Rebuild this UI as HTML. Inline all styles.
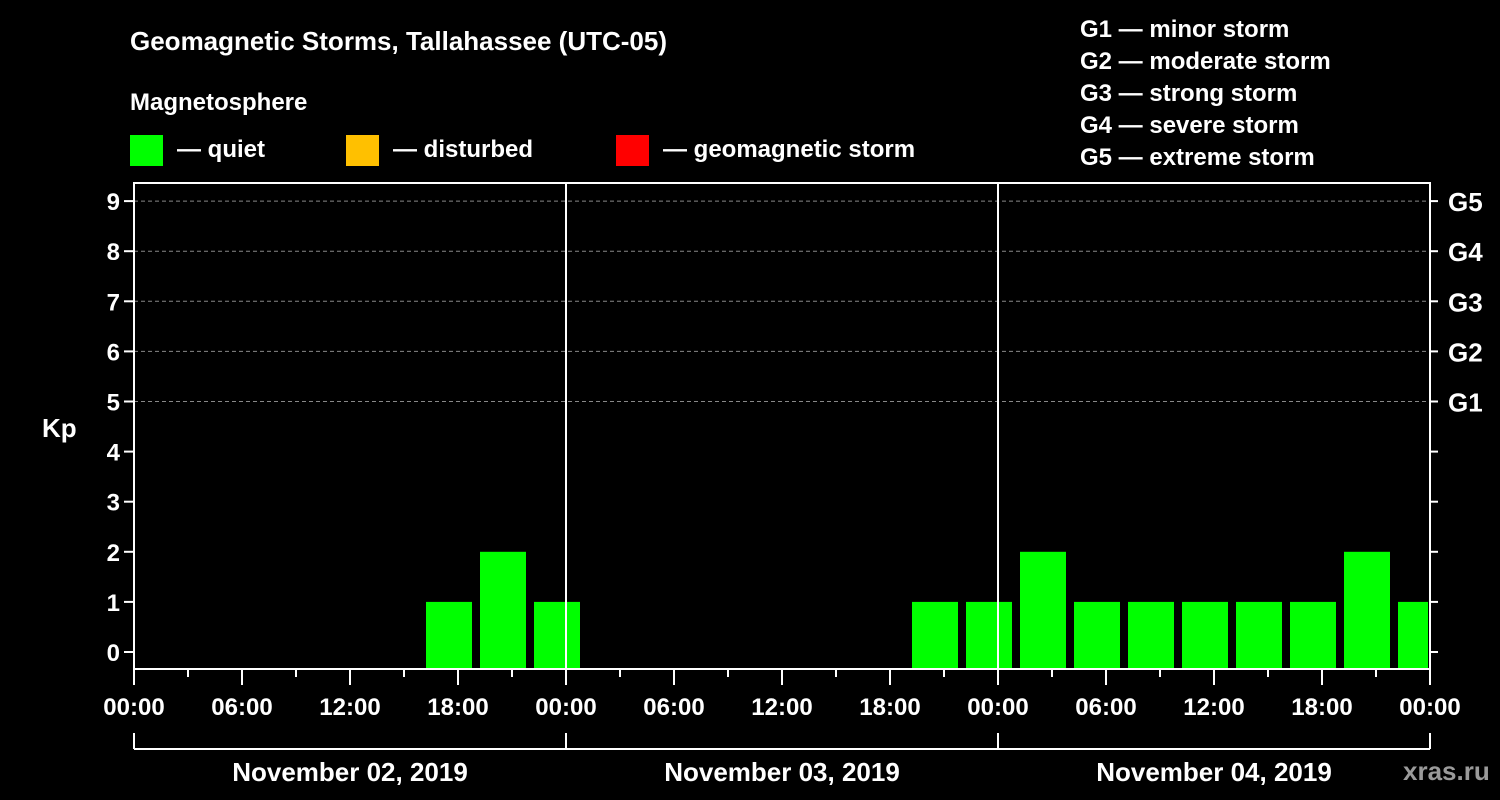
<!DOCTYPE html>
<html><head><meta charset="utf-8"><style>
body{margin:0;background:#000;width:1500px;height:800px;overflow:hidden}
svg{display:block}
text{font-family:"Liberation Sans",sans-serif;font-weight:bold;fill:#fff}
</style></head><body>
<svg id="c" width="1500" height="800" xmlns="http://www.w3.org/2000/svg">
<text x="130" y="50" font-size="26">Geomagnetic Storms, Tallahassee (UTC-05)</text>
<text x="130" y="110" font-size="24">Magnetosphere</text>
<g><rect x="130" y="135" width="33" height="31" fill="#00ff00"/><text x="177" y="157" font-size="24">— quiet</text></g>
<g><rect x="346" y="135" width="33" height="31" fill="#ffc000"/><text x="393" y="157" font-size="24">— disturbed</text></g>
<g><rect x="616" y="135" width="33" height="31" fill="#ff0000"/><text x="663" y="157" font-size="24">— geomagnetic storm</text></g>
<g font-size="24">
<text x="1080" y="37">G1 — minor storm</text>
<text x="1080" y="69">G2 — moderate storm</text>
<text x="1080" y="101">G3 — strong storm</text>
<text x="1080" y="133">G4 — severe storm</text>
<text x="1080" y="165">G5 — extreme storm</text>
</g>
<text x="42" y="437" font-size="26">Kp</text>
<text x="1403" y="780" font-size="26" fill="#888" style="fill:#9a9a9a">xras.ru</text>
<g id="g"></g>
</svg>
<script>
const kpValues=[0,0,0,0,0,1,2,1, 0,0,0,0,0,0,1,1, 2,1,1,1,1,1,2,1];
const yTicks=[0,1,2,3,4,5,6,7,8,9];
const gLabels=["G1","G2","G3","G4","G5"];
const xTickLabels=["00:00","06:00","12:00","18:00","00:00","06:00","12:00","18:00","00:00","06:00","12:00","18:00","00:00"];
const dayLabels=["November 02, 2019","November 03, 2019","November 04, 2019"];
const binStartHour=1;
const NS="http://www.w3.org/2000/svg";
const L=134,R=1430,T=183,B=669,totalHours=72;
const x=h=>L+(R-L)*h/totalHours;
const y=v=>652-50.1*v;
const g=document.getElementById('g');
function mk(t,a){const e=document.createElementNS(NS,t);for(const k in a)e.setAttribute(k,a[k]);g.appendChild(e);return e;}
function col(v){return v>=5?"#ff0000":v>=4?"#ffc000":"#00ff00";}
// grid
yTicks.forEach(v=>{
 if(v>=5){const l=mk('line',{x1:L,x2:R,y1:y(v),y2:y(v),stroke:'#888','stroke-dasharray':'4,3'});
 
 }
 const t1=mk('line',{x1:L-10,x2:L,y1:y(v),y2:y(v),stroke:'#fff','stroke-width':2});
 
 
 const t2=mk('line',{x1:R,x2:R+8,y1:y(v),y2:y(v),stroke:'#fff','stroke-width':2});
 
 
 const tx=mk('text',{x:L-14,y:y(v)+9,'font-size':24,'text-anchor':'end'});tx.textContent=v;
 
 
 if(v>=5){const gt=mk('text',{x:R+18,y:y(v)+10,'font-size':26});gt.textContent=gLabels[v-5];
 
 }
});
// bars
kpValues.forEach((v,i)=>{
 if(v<=0)return;
 const h0=binStartHour+i*3,h1=Math.min(h0+3,totalHours);
 const x0=x(h0)+4,x1=x(h1)-(h0+3>totalHours?2:4);
 const r=mk('rect',{x:x0,y:y(v),width:x1-x0,height:B-1-y(v),fill:col(v)});
 
 
});
// frame
const fr=mk('rect',{x:L,y:T,width:R-L,height:B-T,fill:'none',stroke:'#fff','stroke-width':2});


[1,2].forEach(d=>{const l=mk('line',{x1:x(d*24),x2:x(d*24),y1:T,y2:B,stroke:'#fff','stroke-width':2});
 
 });
// x ticks
for(let h=0;h<=totalHours;h+=3){
 const major=h%6===0;
 const l=mk('line',{x1:x(h),x2:x(h),y1:B,y2:B+(major?16:8),stroke:'#fff','stroke-width':2});
 
 
}
xTickLabels.forEach((s,i)=>{const t=mk('text',{x:x(i*6),y:715,'font-size':24,'text-anchor':'middle'});t.textContent=s;
 
 });
const bl=mk('line',{x1:L,x2:R,y1:749,y2:749,stroke:'#fff','stroke-width':2});


for(let d=0;d<=3;d++){const l=mk('line',{x1:x(d*24),x2:x(d*24),y1:733,y2:749,stroke:'#fff','stroke-width':2});
 
 }
dayLabels.forEach((s,i)=>{const t=mk('text',{x:x(i*24+12),y:781,'font-size':26,'text-anchor':'middle'});t.textContent=s;
 
 });
</script>
</body></html>
